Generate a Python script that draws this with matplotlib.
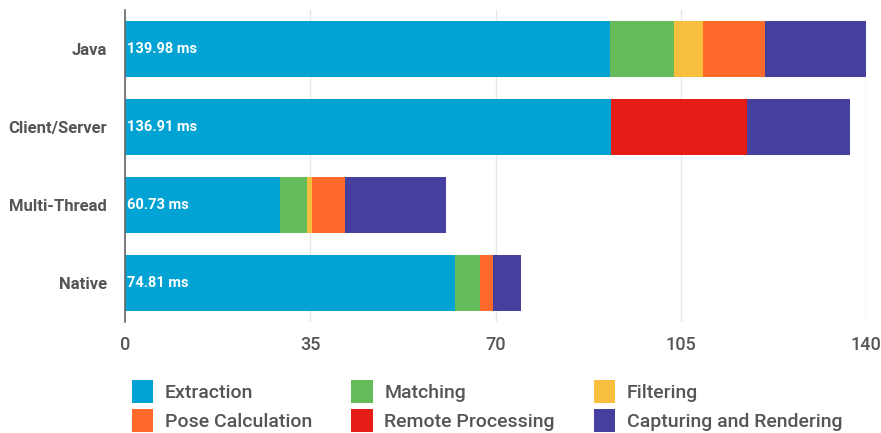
import numpy as np
import matplotlib
matplotlib.use("Agg")
import matplotlib.pyplot as plt
from matplotlib.patches import Patch

plt.rcParams['font.family'] = ['Roboto', 'DejaVu Sans']

# data (ms per stage)
platforms = ["Java", "Client/Server", "Multi-Thread", "Native"]
totals = [139.98, 136.91, 60.73, 74.81]
stages = ["Extraction", "Matching", "Filtering", "Pose Calculation",
          "Remote Processing", "Capturing and Rendering"]
extraction = [91.7, 91.8, 29.3, 62.3]
matching = [12.0, 0.0, 5.1, 4.7]
filtering = [5.5, 0.0, 0.9, 0.0]
pose = [11.7, 0.0, 6.2, 2.6]
remote = [0.0, 25.7, 0.0, 0.0]
capturing = [19.08, 19.41, 19.23, 5.21]
xticks = [0, 35, 70, 105, 140]

colors = ["#00A3D3", "#66BB5A", "#F8BE3E", "#FF6A2A", "#E41E17", "#4540A0"]
series = [extraction, matching, filtering, pose, remote, capturing]

fig = plt.figure(figsize=(8.81, 4.33), dpi=100)
ax = fig.add_axes([125/881, 1-322/433, (866-125)/881, (322-10)/433])

y = np.arange(len(platforms))
left = np.zeros(len(platforms))
for vals, col in zip(series, colors):
    vals = np.array(vals)
    ax.barh(y, vals, left=left, height=0.71, color=col, linewidth=0, zorder=3)
    left += vals

for i, t in enumerate(totals):
    ax.text(0.4, i, "%.2f ms" % t, color="white", fontsize=10.5, fontweight="bold",
            va="center", ha="left", zorder=4)

ax.set_xlim(0, 140)
ax.set_ylim(3.5, -0.5)
ax.set_yticks(y)
ax.set_yticklabels(platforms, fontsize=12, fontweight="bold", color="#555555")
ax.set_xticks(xticks)
ax.set_xticklabels([str(v) for v in xticks], fontsize=13, fontweight="medium",
                   color="#555555")
ax.tick_params(axis="both", length=0)
ax.tick_params(axis="x", pad=10)
ax.tick_params(axis="y", pad=13)
ax.grid(axis="x", color="#e6e6e6", linewidth=1, zorder=0)
for s in ["top", "right", "bottom"]:
    ax.spines[s].set_visible(False)
ax.spines["left"].set_color("#666666")
ax.spines["left"].set_linewidth(1.2)
ax.spines["left"].set_zorder(5)

# legend, filled column-wise so rows read left to right
order = [0, 3, 1, 4, 2, 5]
handles = [Patch(facecolor=colors[k], label=stages[k]) for k in order]
fig.legend(handles=handles, ncol=3, loc="upper left",
           bbox_to_anchor=(132/881, 1-380/433), frameon=False,
           borderaxespad=0, borderpad=0,
           prop={"size": 14, "weight": "medium"},
           handlelength=1.1, handleheight=1.45,
           handletextpad=0.6, columnspacing=2.0, labelspacing=0.3,
           labelcolor="#555555")

fig.savefig("out.png", dpi=100)
